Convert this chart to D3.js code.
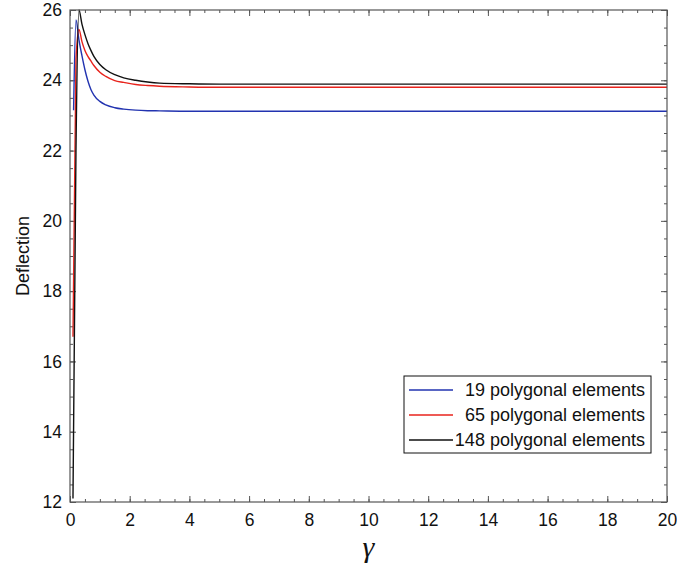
<!DOCTYPE html>
<html><head><meta charset="utf-8">
<script src="https://cdn.jsdelivr.net/npm/d3@7"></script>
<style>body{margin:0;background:#fff} svg{display:block}</style>
</head><body><svg id="c" width="677" height="566"></svg>
<script>
// Data
const gamma19  = [0.12, 0.2, 0.3, 0.4, 0.5, 0.6, 0.7, 0.8, 1.0, 1.2, 1.5, 1.8, 2.2, 2.6, 3.0, 4.0, 6.0, 10.0, 14.0, 20.0];
const defl19   = [23.15, 25.72, 25.15, 24.7, 24.3, 23.98, 23.74, 23.58, 23.4, 23.3, 23.22, 23.18, 23.15, 23.135, 23.13, 23.12, 23.12, 23.12, 23.12, 23.12];
const gamma65  = [0.1, 0.2, 0.3, 0.4, 0.5, 0.6, 0.7, 0.8, 1.0, 1.2, 1.5, 1.8, 2.2, 2.6, 3.0, 4.0, 5.0, 10.0, 14.0, 20.0];
const defl65   = [16.7, 24.6, 25.45, 25.1, 24.85, 24.68, 24.55, 24.42, 24.23, 24.11, 23.99, 23.94, 23.88, 23.85, 23.83, 23.81, 23.8, 23.8, 23.8, 23.8];
const gamma148 = [0.1, 0.2, 0.3, 0.4, 0.5, 0.6, 0.7, 0.8, 1.0, 1.2, 1.5, 1.8, 2.2, 2.6, 3.0, 4.0, 5.0, 10.0, 14.0, 20.0];
const defl148  = [12.1, 22.0, 26.0, 25.6, 25.3, 25.05, 24.85, 24.68, 24.45, 24.3, 24.16, 24.07, 24.0, 23.95, 23.92, 23.9, 23.89, 23.89, 23.89, 23.89];
const seriesNames  = ["19 polygonal elements", "65 polygonal elements", "148 polygonal elements"];
const seriesColors = ["#2233b0", "#e8231c", "#111111"];
const xMajorTicks = d3.range(0, 20.001, 2);
const xMinorTicks = d3.range(0, 20.001, 0.5);
const yMajorTicks = d3.range(12, 26.001, 2);
const yMinorTicks = d3.range(12, 26.001, 0.5);

const svg = d3.select("#c");
const L = 70, R = 667, T = 10, B = 502;
const x = d3.scaleLinear().domain([0, 20]).range([L, R]);
const y = d3.scaleLinear().domain([12, 26]).range([B, T]);
const axisCol = "#555";
const font = "Liberation Sans, Arial, Helvetica, sans-serif";

function styleAxis(g){
  g.select(".domain").remove();
  g.selectAll(".tick line").attr("stroke", axisCol).attr("stroke-width", 1);
  g.selectAll("text").attr("font-family", font).attr("font-size", 17.5).attr("fill", "#111");
}
// minor ticks
svg.append("g").attr("transform", `translate(0,${B})`).call(d3.axisBottom(x).tickValues(xMinorTicks).tickSize(-3).tickFormat("")).call(styleAxis);
svg.append("g").attr("transform", `translate(0,${T})`).call(d3.axisTop(x).tickValues(xMinorTicks).tickSize(-3).tickFormat("")).call(styleAxis);
svg.append("g").attr("transform", `translate(${L},0)`).call(d3.axisLeft(y).tickValues(yMinorTicks).tickSize(-3).tickFormat("")).call(styleAxis);
svg.append("g").attr("transform", `translate(${R},0)`).call(d3.axisRight(y).tickValues(yMinorTicks).tickSize(-3).tickFormat("")).call(styleAxis);
// major ticks
svg.append("g").attr("transform", `translate(0,${B})`).call(d3.axisBottom(x).tickValues(xMajorTicks).tickSize(-6).tickPadding(12).tickFormat(d3.format("d"))).call(styleAxis);
svg.append("g").attr("transform", `translate(0,${T})`).call(d3.axisTop(x).tickValues(xMajorTicks).tickSize(-6).tickFormat("")).call(styleAxis);
svg.append("g").attr("transform", `translate(${L},0)`).call(d3.axisLeft(y).tickValues(yMajorTicks).tickSize(-6).tickPadding(8).tickFormat(d3.format("d"))).call(styleAxis);
svg.append("g").attr("transform", `translate(${R},0)`).call(d3.axisRight(y).tickValues(yMajorTicks).tickSize(-6).tickFormat("")).call(styleAxis);

// series lines
const data = [
  gamma19.map((g,i)=>[g, defl19[i]]),
  gamma65.map((g,i)=>[g, defl65[i]]),
  gamma148.map((g,i)=>[g, defl148[i]])
];
const line = d3.line().x(d=>x(d[0])).y(d=>y(d[1])).curve(d3.curveMonotoneX);
data.forEach((d,i)=>{
  svg.append("path").attr("d", line(d)).attr("fill","none")
    .attr("stroke", seriesColors[i]).attr("stroke-width", 1.4);
});

// frame
svg.append("rect").attr("x", L).attr("y", T).attr("width", R-L).attr("height", B-T)
  .attr("fill","none").attr("stroke", axisCol).attr("stroke-width", 1.2);

// axis labels
svg.append("text").attr("x", (L+R)/2).attr("y", 557).attr("text-anchor","middle")
  .attr("font-family","Liberation Serif, Times New Roman, serif").attr("font-style","italic")
  .attr("font-size", 30).attr("fill","#111").text("γ");
svg.append("text").attr("transform", `translate(29,${(T+B)/2}) rotate(-90)`).attr("text-anchor","middle")
  .attr("font-family", font).attr("font-size", 18).attr("fill","#111").text("Deflection");

// legend
const lg = svg.append("g");
const lx0 = 404, lx1 = 651, ly0 = 376, ly1 = 453;
lg.append("rect").attr("x", lx0).attr("y", ly0).attr("width", lx1-lx0).attr("height", ly1-ly0)
  .attr("fill","#fff").attr("stroke","#111").attr("stroke-width",1);
seriesNames.forEach((n,i)=>{
  const cy = 390 + i*25;
  lg.append("line").attr("x1", 409).attr("x2", 453).attr("y1", cy).attr("y2", cy)
    .attr("stroke", seriesColors[i]).attr("stroke-width", 1.4);
  lg.append("text").attr("x", 645).attr("y", cy).attr("dy","0.35em").attr("text-anchor","end")
    .attr("font-family", font).attr("font-size", 18).attr("fill","#111").text(n);
});
</script></body></html>
